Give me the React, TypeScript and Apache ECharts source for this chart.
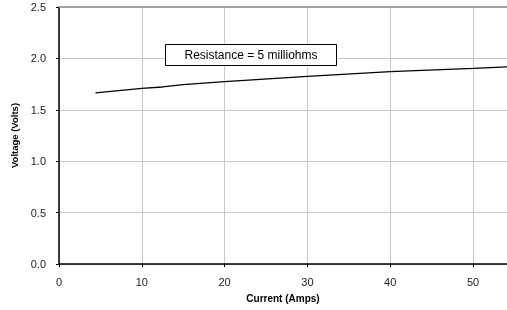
import React, { useEffect, useRef } from "react";
import * as echarts from "echarts";

const currentAmps = [4.4, 10, 12.5, 15, 20, 30, 40, 50, 55];
const voltageVolts = [1.665, 1.708, 1.722, 1.745, 1.775, 1.825, 1.872, 1.902, 1.92];
const xTicks = [0, 10, 20, 30, 40, 50];
const yTicks = [0, 0.5, 1.0, 1.5, 2.0, 2.5];
const annotation = "Resistance = 5 milliohms";

export default function App() {
  const ref = useRef<HTMLDivElement>(null);
  useEffect(() => {
    if (!ref.current) return;
    const chart = echarts.init(ref.current, null, { renderer: "svg" });
    const font = "Arial, 'Liberation Sans', sans-serif";
    chart.setOption({
      animation: false,
      grid: { left: 59, top: 7, right: 0, bottom: 46, containLabel: false },
      xAxis: {
        type: "value",
        min: 0,
        max: 54.1,
        interval: 10,
        name: "Current (Amps)",
        nameLocation: "middle",
        nameGap: 29,
        nameTextStyle: { fontFamily: font, fontSize: 10, fontWeight: "bold", color: "#000" },
        axisLine: { show: true, lineStyle: { color: "#000", width: 1.5 } },
        axisTick: { show: true, length: 3, lineStyle: { color: "#000" } },
        axisLabel: {
          fontFamily: font,
          fontSize: 11,
          color: "#222",
          margin: 12,
          showMaxLabel: false,
          formatter: (v: number) => (xTicks.includes(v) ? String(v) : ""),
        },
        splitLine: { show: true, lineStyle: { color: "#c8c8c8", width: 1 } },
      },
      yAxis: {
        type: "value",
        min: 0,
        max: 2.5,
        interval: 0.5,
        name: "Voltage (Volts)",
        nameLocation: "middle",
        nameGap: 39,
        nameRotate: 90,
        nameTextStyle: { fontFamily: font, fontSize: 9.5, fontWeight: "bold", color: "#000" },
        axisLine: { show: true, lineStyle: { color: "#000", width: 1.5 } },
        axisTick: { show: true, length: 3, lineStyle: { color: "#000" } },
        axisLabel: {
          fontFamily: font,
          fontSize: 11,
          color: "#222",
          margin: 13,
          formatter: (v: number) => (yTicks.includes(v) ? v.toFixed(1) : ""),
        },
        splitLine: { show: true, lineStyle: { color: "#c8c8c8", width: 1 } },
      },
      graphic: [
        {
          type: "group",
          left: 165,
          top: 44,
          z: 100,
          children: [
            {
              type: "rect",
              z: 100,
              shape: { x: 0, y: 0, width: 171, height: 21 },
              style: { fill: "#fff", stroke: "#000", lineWidth: 1 },
            },
            {
              type: "text",
              z: 101,
              x: 85.5,
              y: 10.5,
              style: {
                text: annotation,
                fontFamily: font,
                fontSize: 12,
                fill: "#000",
                align: "center",
                verticalAlign: "middle",
              },
            },
          ],
        },
        {
          type: "line",
          z: 100,
          shape: { x1: 59, y1: 7, x2: 507, y2: 7 },
          style: { stroke: "#a0a0a0", lineWidth: 2 },
        },
      ],
      series: [
        {
          type: "line",
          data: currentAmps.map((x, i) => [x, voltageVolts[i]]),
          showSymbol: false,
          symbol: "none",
          clip: true,
          lineStyle: { color: "#000", width: 1.3 },
        },
      ],
    });
    return () => chart.dispose();
  }, []);
  return <div ref={ref} style={{ width: 507, height: 310, position: "fixed", left: 0, top: 0 }} />;
}
